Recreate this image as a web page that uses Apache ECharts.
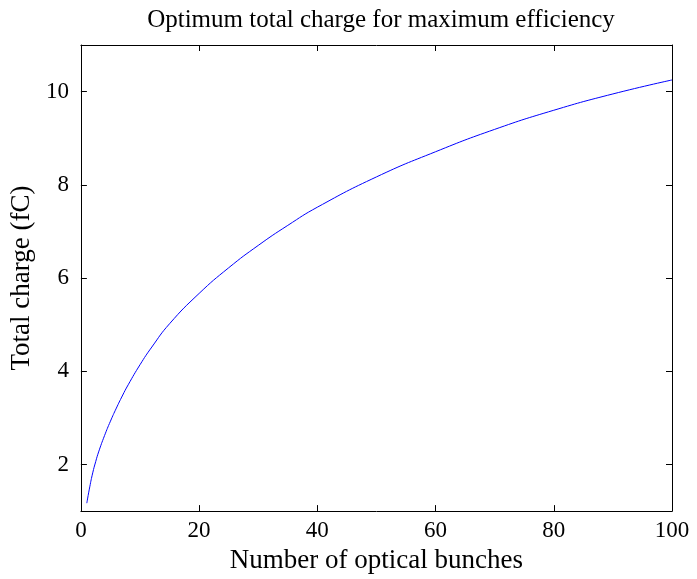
<!DOCTYPE html>
<html>
<head>
<meta charset="utf-8">
<script src="https://cdn.jsdelivr.net/npm/echarts@6/dist/echarts.min.js"></script>
<style>
  html, body { margin: 0; padding: 0; background: #fff; }
  #chart { width: 697px; height: 579px; }
</style>
</head>
<body>
<div id="chart"></div>
<script>
// values
const bunches = [1, 1.5, 2, 2.5, 3, 4, 5, 6, 7, 8, 10, 12, 15, 20, 25, 30, 35, 40, 50, 60, 70, 80, 90, 100];
const charge = [1.17, 1.52, 1.82, 2.06, 2.27, 2.62, 2.93, 3.21, 3.47, 3.71, 4.14, 4.52, 5.02, 5.67, 6.22, 6.7, 7.13, 7.52, 8.17, 8.71, 9.19, 9.6, 9.95, 10.25];
const xTicks = [0, 20, 40, 60, 80, 100];
const yTicks = [2, 4, 6, 8, 10];

const font = 'Liberation Serif';
const axisLine = { show: true, onZero: false, lineStyle: { color: '#000', width: 1 } };
const tick = { show: true, inside: true, length: 6, lineStyle: { color: '#000' } };

let chart = echarts.init(document.getElementById('chart'));
chart.setOption({
  animation: false,
  title: {
    text: 'Optimum total charge for maximum efficiency',
    left: 376, top: 3, textAlign: 'center',
    textStyle: { fontFamily: font, fontSize: 25, fontWeight: 'normal', color: '#000' }
  },
  grid: { left: 78, right: 25, top: 45, bottom: 65 },
  xAxis: [
    {
      type: 'value', min: 0, max: 100, position: 'bottom',
      name: 'Number of optical bunches', nameLocation: 'middle', nameGap: 33,
      nameTextStyle: { fontFamily: font, fontSize: 27, color: '#000' },
      axisLine: axisLine,
      axisTick: Object.assign({ customValues: xTicks }, tick),
      axisLabel: { customValues: xTicks, fontFamily: font, fontSize: 23, color: '#000', margin: 8 },
      splitLine: { show: false }
    },
    {
      type: 'value', min: 0, max: 100, position: 'top',
      axisLine: axisLine,
      axisTick: Object.assign({ customValues: xTicks }, tick),
      axisLabel: { show: false },
      splitLine: { show: false }
    }
  ],
  yAxis: [
    {
      type: 'value', min: 1, max: 11, position: 'left',
      name: 'Total charge (fC)', nameLocation: 'middle', nameGap: 41,
      nameTextStyle: { fontFamily: font, fontSize: 27, color: '#000' },
      axisLine: axisLine,
      axisTick: Object.assign({ customValues: yTicks }, tick),
      axisLabel: { customValues: yTicks, fontFamily: font, fontSize: 23, color: '#000', margin: 12 },
      splitLine: { show: false }
    },
    {
      type: 'value', min: 1, max: 11, position: 'right',
      axisLine: axisLine,
      axisTick: Object.assign({ customValues: yTicks }, tick),
      axisLabel: { show: false },
      splitLine: { show: false }
    }
  ],
  series: [
    {
      type: 'line',
      data: bunches.map((b, i) => [b, charge[i]]),
      showSymbol: false,
      smooth: 0.5,
      lineStyle: { color: '#0000ff', width: 1 }
    }
  ]
});
</script>
</body>
</html>
